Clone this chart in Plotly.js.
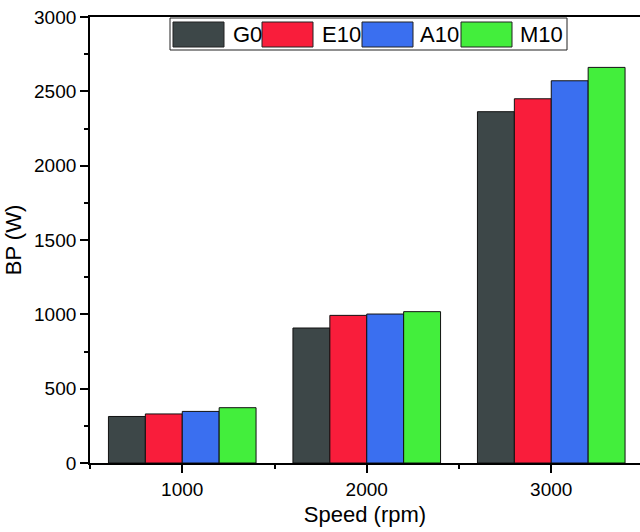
<!DOCTYPE html>
<html>
<head>
<meta charset="utf-8">
<script src="https://cdn.plot.ly/plotly-3.0.1.min.js"></script>
<style>body{margin:0;background:#fff}</style>
</head>
<body>
<div id="chart" style="width:640px;height:532px"></div>
<script>
// engine speed (rpm) and brake power (W) per fuel blend
var speeds = [1000, 2000, 3000];
var names = ['G0', 'E10', 'A10', 'M10'];
var g0 = [313, 908, 2363];
var e10 = [330, 993, 2450];
var a10 = [347, 1002, 2571];
var m10 = [372, 1018, 2661];
var colors = ['#3d4748', '#f91d3b', '#3a6ff0', '#43ee3c'];

var series = [g0, e10, a10, m10];
var data = series.map(function (vals, i) {
  return {
    x: speeds,
    y: vals,
    name: names[i],
    type: 'bar',
    marker: {color: colors[i], line: {color: '#111', width: 1}},
    hoverinfo: 'x+y'
  };
});

// plot box in pixels: left 90, right 640, top 17, bottom 463
function px(x) { return (x - 90) / 550; }
function py(y) { return (463 - y) / 446; }

// hand made legend, wide swatches like the original
var shapes = [{
  type: 'rect', xref: 'paper', yref: 'paper',
  x0: px(170), x1: px(567), y0: py(50), y1: py(18),
  line: {color: '#222', width: 1}, fillcolor: '#fff', layer: 'above'
}];
var annotations = [];
var swatchX = [173, 262, 362, 461];
var labelX = [231, 320, 418, 518];
names.forEach(function (n, i) {
  shapes.push({
    type: 'rect', xref: 'paper', yref: 'paper',
    x0: px(swatchX[i]), x1: px(swatchX[i] + 51), y0: py(47), y1: py(22),
    line: {color: '#222', width: 1}, fillcolor: colors[i], layer: 'above'
  });
  annotations.push({
    xref: 'paper', yref: 'paper', x: px(labelX[i]), y: py(34.5),
    xanchor: 'left', yanchor: 'middle', showarrow: false, text: n,
    font: {size: 22, color: '#000'}
  });
});

var layout = {
  width: 640,
  height: 532,
  showlegend: false,
  barmode: 'group',
  bargap: 0.2,
  bargroupgap: 0,
  paper_bgcolor: '#fff',
  plot_bgcolor: '#fff',
  font: {family: 'Liberation Sans, Arial, sans-serif', color: '#000'},
  margin: {l: 90, r: 0, t: 17, b: 69},
  xaxis: {
    range: [500, 3481],
    tick0: 0,
    dtick: 1000,
    ticks: 'outside',
    ticklen: 8,
    tickwidth: 1.5,
    tickcolor: '#000',
    showline: true,
    linecolor: '#000',
    linewidth: 1.8,
    mirror: true,
    showgrid: false,
    zeroline: false,
    tickfont: {size: 19},
    minor: {dtick: 500, ticks: 'outside', ticklen: 4, tickwidth: 1.5, tickcolor: '#000', showgrid: false},
    title: {text: 'Speed (rpm)', font: {size: 22}, standoff: 8}
  },
  yaxis: {
    range: [0, 3000],
    dtick: 500,
    ticks: 'outside',
    ticklen: 8,
    tickwidth: 1.5,
    tickcolor: '#000',
    showline: true,
    linecolor: '#000',
    linewidth: 1.8,
    showgrid: false,
    zeroline: false,
    tickfont: {size: 19},
    minor: {dtick: 250, ticks: 'outside', ticklen: 4, tickwidth: 1.5, tickcolor: '#000', showgrid: false},
    title: {text: 'BP (W)', font: {size: 22}, standoff: 6}
  },
  shapes: shapes,
  annotations: annotations
};

Plotly.newPlot('chart', data, layout, {displayModeBar: false, responsive: false});
</script>
</body>
</html>
